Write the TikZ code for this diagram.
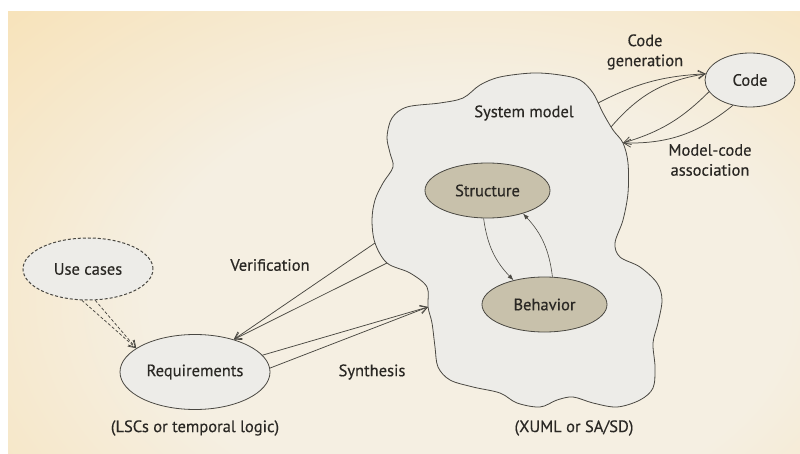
\documentclass[tikz,border=0pt]{standalone}
\usepackage{fontspec}
\setmainfont{PT Sans}
\newfontfamily\labelfont{PT Sans}[FakeBold=0.4]
\usetikzlibrary{arrows.meta,shapes.geometric}

\definecolor{paper}{HTML}{F8DFAE}
\definecolor{paperlight}{HTML}{F5EFE2}
\definecolor{stipple}{HTML}{EDECE8}
\definecolor{khaki}{HTML}{C8C1AB}
\definecolor{ink}{HTML}{4A4842}
\definecolor{txt}{HTML}{2A2824}

% soft glow of the paper background
\pgfdeclareradialshading{paperglow}{\pgfpoint{0bp}{0bp}}{%
  color(0bp)=(paperlight); color(14bp)=(paperlight);
  color(32bp)=(paper); color(80bp)=(paper)}

\tikzset{
  lbl/.style={font=\labelfont\fontsize{16.5}{20}\selectfont, text=txt, align=center, inner sep=0pt},
  bubble/.style={ellipse, draw=ink, line width=0.8pt, fill=stipple, inner sep=0pt,
                 font=\labelfont\fontsize{16.5}{20}\selectfont, text=txt},
  corebubble/.style={bubble, fill=khaki},
  usebubble/.style={bubble, dashed, dash pattern=on 3pt off 2pt, line width=1pt},
  flow/.style={draw=ink, line width=0.75pt, -{Straight Barb[length=7pt,width=8pt,line width=0.75pt]}},
  dashflow/.style={flow, dash pattern=on 3pt off 2pt},
  link/.style={draw=ink, line width=0.6pt, -{Latex[length=6pt,width=4.5pt]}},
}

\begin{document}
\begin{tikzpicture}[x=1pt,y=-1pt]
\useasboundingbox (0,0) rectangle (800,454);
\fill[white] (0,0) rectangle (800,454);
\begin{scope}
  \clip (8,12) rectangle (800,454);
  \shade[shading=paperglow] (-100,-80) rectangle (1040,680);
\end{scope}

% system model cloud
\filldraw[draw=ink, line width=0.8pt, fill=stipple]
  plot[smooth cycle, tension=0.55] coordinates {
    (392,118) (407,107) (440,103) (463,98) (480,85) (500,77) (533,73) (560,75)
    (580,80) (593,93) (603,113) (613,130) (623,143) (628,163) (628,193) (623,220)
    (615,243) (620,257) (640,267) (657,283) (662,300) (658,323) (653,343) (655,367)
    (653,388) (640,400) (617,407) (593,403) (573,397) (557,400) (540,407) (517,403)
    (500,393) (473,387) (450,380) (438,367) (435,347) (432,323) (428,307) (427,287)
    (410,273) (387,263) (375,243) (372,220) (375,200) (383,183) (393,167) (390,153)
    (387,137)};

% points on the cloud outline where connectors attach
\coordinate (smV1) at (375,243);
\coordinate (smV2) at (387,263);
\coordinate (smS)  at (428,307);
\coordinate (smC1) at (598,103);
\coordinate (smC2) at (611,127);
\coordinate (smM)  at (623,143);

\node[lbl] (smlabel) at (524,113) {System model};

% nodes
\node[corebubble, minimum width=125pt, minimum height=55pt] (struct) at (487.5,190.5) {Structure};
\node[corebubble, minimum width=125pt, minimum height=55pt] (behav)  at (544.5,304.5) {Behavior};
\node[bubble, minimum width=150pt, minimum height=75pt] (req)   at (195,372) {Requirements};
\node[usebubble, minimum width=130pt, minimum height=62pt] (usec) at (88,269) {Use cases};
\node[bubble, minimum width=90pt, minimum height=54pt] (code)  at (750,80) {Code};

% structure / behavior cycle
\draw[link] (struct.262) to[bend right=18] (behav.142);
\draw[link] (behav.74) to[bend right=18] (struct.327);

% use cases feed the requirements
\draw[dashflow] (usec.259) -- (req.158);
\draw[dashflow] (usec.283) -- (req.158);

% verification: model -> requirements
\draw[flow] (smV1) -- (req.40);
\draw[flow] (smV2) -- (req.40);

% synthesis: requirements -> model
\draw[flow] (req.14) -- (smS);
\draw[flow] (req.3) -- (smS);

% code generation: model -> code
\draw[flow] (smC1) to[bend left=12] (code.172);
\draw[flow] (smC2) to[bend left=20] (code.172);

% model-code association: code -> model
\draw[flow] (code.196) to[bend left=14] (smM);
\draw[flow] (code.236) to[bend left=20] (smM);

% labels
\node[lbl] (verif) at (270,265) {Verification};
\node[lbl] (synth) at (372,372) {Synthesis};
\node[lbl] (cgen)  at (645,52) {Code\\generation};
\node[lbl] (mcode) at (710,160) {Model-code\\association};
\node[lbl] (lscs)  at (195,428) {(LSCs or temporal logic)};
\node[lbl] (xuml)  at (574,428) {(XUML or SA/SD)};
\end{tikzpicture}
\end{document}
